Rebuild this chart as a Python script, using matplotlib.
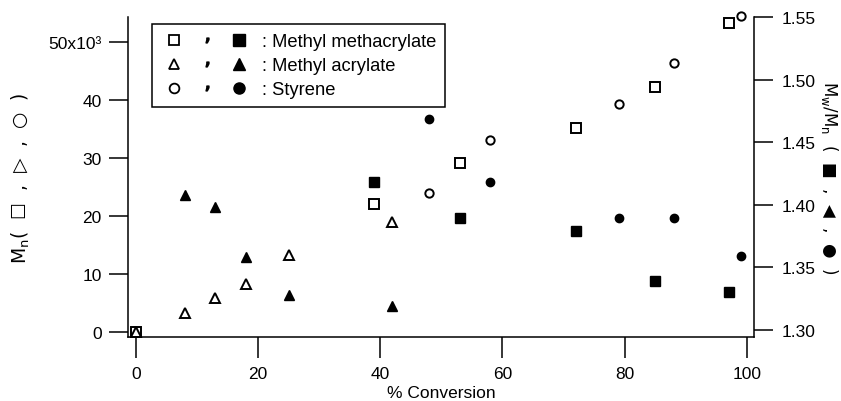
"""Mn and Mw/Mn versus % conversion for three monomers (twin y axes)."""

import matplotlib
matplotlib.use("Agg")
import matplotlib.pyplot as plt
from matplotlib.lines import Line2D
from matplotlib.legend_handler import HandlerTuple
from matplotlib.ticker import FixedLocator, FixedFormatter

plt.rcParams['font.family'] = ['Liberation Sans', 'DejaVu Sans']
plt.rcParams['mathtext.fontset'] = 'custom'
plt.rcParams['mathtext.rm'] = 'DejaVu Sans'
plt.rcParams['mathtext.it'] = 'DejaVu Sans:italic'

# Methyl methacrylate
conv_mma = [0, 39, 53, 72, 85, 97]
mn_mma = [0, 22.0e3, 29.1e3, 35.2e3, 42.2e3, 53.3e3]
conv_mma_pdi = [39, 53, 72, 85, 97]
pdi_mma = [1.418, 1.389, 1.379, 1.339, 1.330]

# Methyl acrylate
conv_ma = [0, 8, 13, 18, 25, 42]
mn_ma = [0, 3.2e3, 5.8e3, 8.2e3, 13.2e3, 18.9e3]
conv_ma_pdi = [8, 13, 18, 25, 42]
pdi_ma = [1.408, 1.398, 1.358, 1.328, 1.319]

# Styrene
conv_st = [48, 58, 79, 88, 99]
mn_st = [24.0e3, 33.1e3, 39.3e3, 46.3e3, 54.4e3]
pdi_st = [1.469, 1.418, 1.389, 1.389, 1.359]

x_ticks = [0, 20, 40, 60, 80, 100]
mn_ticks = [0, 10e3, 20e3, 30e3, 40e3, 50e3]
mn_tick_labels = ['0', '10', '20', '30', '40', '50x10³']
pdi_ticks = [1.30, 1.35, 1.40, 1.45, 1.50, 1.55]

FS = 12.5
open_kw = dict(linestyle='none', markerfacecolor='white', markeredgecolor='black',
               markeredgewidth=1.4, clip_on=False)
fill_kw = dict(linestyle='none', color='black', clip_on=False)

fig = plt.figure(figsize=(8.41, 4.02), dpi=100)
ax = fig.add_axes([128 / 841, 1 - 338 / 402, 626 / 841, 320 / 402])
ax2 = ax.twinx()

ax.plot(conv_mma, mn_mma, marker='s', markersize=6.5, **open_kw)
ax.plot(conv_ma, mn_ma, marker='^', markersize=6.5, **open_kw)
ax.plot(conv_st, mn_st, marker='o', markersize=6, **open_kw)

ax2.plot(conv_mma_pdi, pdi_mma, marker='s', markersize=6.5, **fill_kw)
ax2.plot(conv_ma_pdi, pdi_ma, marker='^', markersize=7.5, **fill_kw)
ax2.plot(conv_st, pdi_st, marker='o', markersize=6, **fill_kw)

ax.set_xlim(-1.26, 101.15)
ax.set_ylim(-914, 54260)
ax2.set_ylim(1.294, 1.5504)

ax.xaxis.set_major_locator(FixedLocator(x_ticks))
ax.yaxis.set_major_locator(FixedLocator(mn_ticks))
ax.yaxis.set_major_formatter(FixedFormatter(mn_tick_labels))
ax2.yaxis.set_major_locator(FixedLocator(pdi_ticks))
ax2.yaxis.set_major_formatter(FixedFormatter([f'{v:.2f}' for v in pdi_ticks]))

ax.tick_params(axis='both', direction='out', length=14, width=1.1,
               labelsize=FS, pad=5)
ax.tick_params(axis='x', length=15, pad=6)
ax2.tick_params(axis='y', direction='out', length=14, width=1.1,
                labelsize=FS, pad=6)

for a in (ax, ax2):
    a.spines['top'].set_visible(False)
    for s in a.spines.values():
        s.set_linewidth(1.1)
ax.spines['right'].set_visible(False)
ax2.spines['left'].set_visible(False)
ax2.spines['bottom'].set_visible(False)

# triangles are given sideways so that they stand upright once the label is rotated
ax.set_xlabel('% Conversion', fontsize=FS, labelpad=3)
ax.set_ylabel('M$_\\mathrm{n}$(  ☐  ,  ▷  ,  ○  )', fontsize=13.5,
              family=['DejaVu Sans'], labelpad=12)
ax2.set_ylabel('M$_\\mathrm{w}$/M$_\\mathrm{n}$  (  ■  ,  ◀  ,  ●  )', fontsize=12,
               family=['DejaVu Sans'], rotation=270, labelpad=17)


def pair(marker, ms_open, ms_fill):
    o = Line2D([], [], marker=marker, markersize=ms_open, linestyle='none',
               markerfacecolor='white', markeredgecolor='black', markeredgewidth=1.3)
    c = Line2D([], [], marker='$,$', markersize=3.5, linestyle='none', color='black')
    f = Line2D([], [], marker=marker, markersize=ms_fill, linestyle='none', color='black')
    return (o, c, f)


handles = [pair('s', 7, 8), pair('^', 7, 9), pair('o', 7, 8)]
labels = [': Methyl methacrylate', ': Methyl acrylate', ': Styrene']
leg = ax.legend(handles, labels, handler_map={tuple: HandlerTuple(ndivide=None, pad=0.3)},
                loc='upper left', bbox_to_anchor=(0.038, 0.978), borderaxespad=0,
                fontsize=13.2, frameon=True, fancybox=False, edgecolor='black',
                framealpha=1, handlelength=5.0, handletextpad=0.5,
                labelspacing=0.38, borderpad=0.5)
leg.get_frame().set_linewidth(1.1)
leg.set_zorder(1)

fig.savefig('out.png', dpi=100)
